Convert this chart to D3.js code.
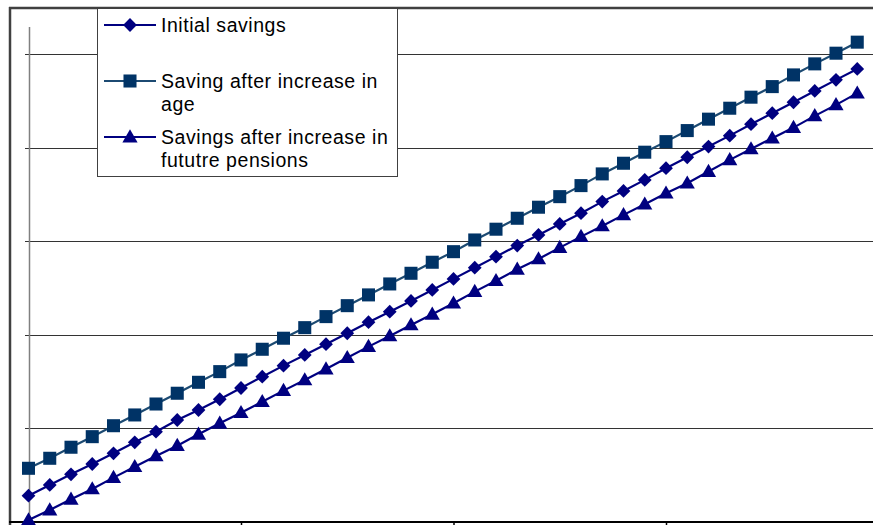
<!DOCTYPE html>
<html>
<head>
<meta charset="utf-8">
<script src="https://cdn.jsdelivr.net/npm/d3@7"></script>
<style>
  html, body { margin: 0; padding: 0; background: #ffffff; }
  svg { display: block; }
  text { font-family: "Liberation Sans", Arial, sans-serif; }
</style>
</head>
<body>
<svg id="chart" width="873" height="525"></svg>
<script>
// ---- data ----
const seriesNames = ["Initial savings", "Saving after increase in age", "Savings after increase in fututre pensions"];
const legendLines = [["Initial savings"], ["Saving after increase in", "age"], ["Savings after increase in", "fututre pensions"]];
const initialSavings = [28.1,39.6,51.0,62.0,73.4,85.2,96.5,109.0,119.7,131.2,143.2,155.3,167.1,178.5,190.0,201.7,213.5,224.8,236.2,248.0,259.8,271.8,283.6,295.4,306.8,318.5,330.0,342.4,353.8,365.6,378.1,389.8,401.2,412.9,425.1,436.9,448.6,460.7,472.5,484.2];
const savingAfterAge = [57.4,68.1,79.9,91.2,102.9,114.4,126.1,137.6,149.3,160.7,173.2,184.6,196.4,207.7,219.5,231.2,242.7,254.4,265.8,277.6,288.9,301.4,312.9,324.6,336.4,347.7,359.5,372.0,383.4,395.2,406.5,418.3,430.5,442.2,454.0,465.3,477.8,489.6,501.0,512.8];
const savingAfterPensions = [2.1,12.8,24.3,35.3,47.4,59.1,70.6,81.6,93.7,105.5,116.8,128.6,140.4,151.8,163.5,175.6,187.4,198.8,210.6,222.0,233.8,246.2,257.9,270.1,281.1,293.2,305.0,316.4,328.2,339.6,351.4,362.1,374.5,387.0,398.7,410.2,421.5,434.0,445.8,458.3];
const xTicks = [0, 10, 20, 30, 40];
const yTicks = [100, 200, 300, 400, 500];
const yMax = 529;
const xMax = 40;

// ---- layout ----
const W = 873, H = 525;
const svg = d3.select("#chart");
const x = d3.scaleLinear().domain([0, xMax]).range([28.5, 878.5]);
const y = d3.scaleLinear().domain([0, yMax]).range([522, 27]);

// outer frame (left and top)
svg.append("line").attr("x1", 10).attr("x2", 10).attr("y1", 7).attr("y2", 525)
  .attr("stroke", "#404040").attr("stroke-width", 2.5);
svg.append("line").attr("x1", 9).attr("x2", W).attr("y1", 8).attr("y2", 8)
  .attr("stroke", "#404040").attr("stroke-width", 2.5);

// gridlines (left axis ticks extending across)
const gGrid = svg.append("g").attr("transform", "translate(25,0)")
  .call(d3.axisLeft(y).tickValues(yTicks).tickSize(-(W - 25)).tickFormat(""));
gGrid.select(".domain").remove();
gGrid.selectAll(".tick line").attr("stroke", "#333333").attr("stroke-width", 1)
  .attr("shape-rendering", "crispEdges");

// y axis line
svg.append("line").attr("x1", 29.5).attr("x2", 29.5).attr("y1", y(yMax)).attr("y2", 522)
  .attr("stroke", "#808080").attr("stroke-width", 1.5);

// x axis
const gX = svg.append("g").attr("transform", "translate(0,522)")
  .call(d3.axisBottom(x).tickValues(xTicks).tickSize(5).tickSizeOuter(0).tickFormat(""));
gX.select(".domain").remove();
gX.selectAll(".tick line").attr("stroke", "#000").attr("stroke-width", 1.5);
svg.append("line").attr("x1", 9).attr("x2", W).attr("y1", 522).attr("y2", 522)
  .attr("stroke", "#000").attr("stroke-width", 2);

// series
const series = [
  { name: seriesNames[0], values: initialSavings, line: "#000080", fill: "#000080", shape: "diamond" },
  { name: seriesNames[1], values: savingAfterAge, line: "#1c4a72", fill: "#003366", shape: "square" },
  { name: seriesNames[2], values: savingAfterPensions, line: "#000080", fill: "#000080", shape: "triangle" }
];
const symbolFor = {
  diamond: d3.symbol().type(d3.symbolSquare).size(95),
  square: d3.symbol().type(d3.symbolSquare).size(170),
  triangle: d3.symbol().type(d3.symbolTriangle).size(100)
};
const lineGen = d3.line().x((d, i) => x(i)).y(d => y(d));

series.forEach(s => {
  svg.append("path").datum(s.values).attr("d", lineGen)
    .attr("fill", "none").attr("stroke", s.line).attr("stroke-width", 2.2);
});
series.forEach(s => {
  svg.append("g").selectAll("path").data(s.values).join("path")
    .attr("d", symbolFor[s.shape])
    .attr("transform", (d, i) => {
      let t = `translate(${x(i)},${y(d)})`;
      if (s.shape === "diamond") t += " rotate(45)";
      if (s.shape === "triangle") t += " translate(0,1)";
      return t;
    })
    .attr("fill", s.fill);
});

// legend
const lg = svg.append("g");
lg.append("rect").attr("x", 97.5).attr("y", 8.5).attr("width", 300).attr("height", 168)
  .attr("fill", "#fff").attr("stroke", "#404040").attr("stroke-width", 1);
const legendY = [25, 81, 137];
series.forEach((s, k) => {
  const cy = legendY[k];
  lg.append("line").attr("x1", 104).attr("x2", 156).attr("y1", cy).attr("y2", cy)
    .attr("stroke", s.line).attr("stroke-width", 2.2);
  let t = `translate(130,${cy})`;
  if (s.shape === "diamond") t += " rotate(45)";
  if (s.shape === "triangle") t += " translate(0,1)";
  lg.append("path").attr("d", symbolFor[s.shape]).attr("transform", t).attr("fill", s.fill);
  legendLines[k].forEach((ln, j) => {
    lg.append("text").attr("x", 161).attr("y", cy + 6.5 + j * 23.5)
      .attr("font-size", 19.5).attr("letter-spacing", 0.55).attr("fill", "#000").text(ln);
  });
});
</script>
</body>
</html>
